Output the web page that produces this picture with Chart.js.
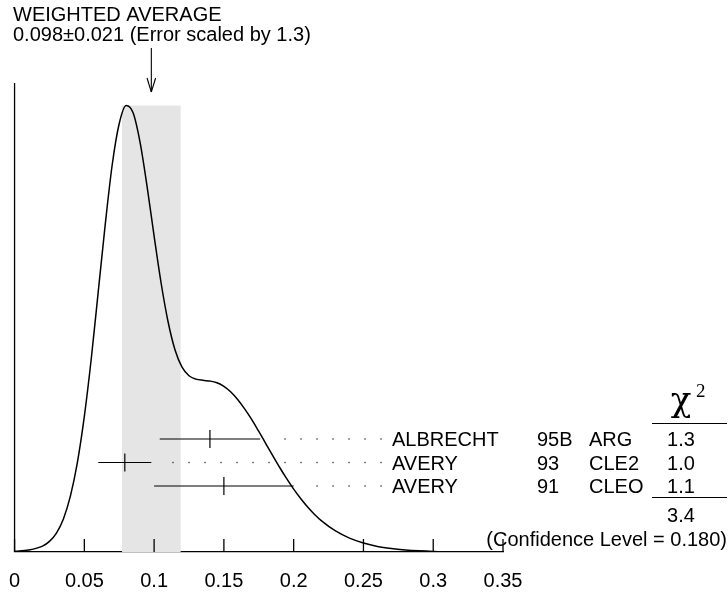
<!DOCTYPE html>
<html>
<head>
<meta charset="utf-8">
<script src="https://cdn.jsdelivr.net/npm/chart.js@4.4.1/dist/chart.umd.min.js"></script>
<style>
html, body { margin: 0; padding: 0; background: #fff; }
#c { display: block; }
</style>
</head>
<body>
<canvas id="c" width="728" height="604"></canvas>
<script>
// ideogram curve
let curveX = [0, 0.01, 0.02, 0.025, 0.03, 0.035, 0.04, 0.045, 0.05, 0.055, 0.06, 0.065,
              0.07, 0.075, 0.08, 0.085, 0.09, 0.095, 0.1, 0.105, 0.11, 0.115, 0.12, 0.125,
              0.13, 0.135, 0.14, 0.145, 0.15, 0.155, 0.16, 0.165, 0.17, 0.175, 0.18, 0.185,
              0.19, 0.195, 0.2, 0.205, 0.21, 0.215, 0.22, 0.23, 0.24, 0.25, 0.26, 0.27,
              0.28, 0.29, 0.3, 0.31, 0.32, 0.33, 0.34, 0.35];
let curveY = [5, 13, 39, 71, 127, 222, 375, 600, 910, 1300, 1750, 2200,
              2600, 2875, 2996, 2945, 2745, 2450, 2120, 1805, 1545, 1355, 1240, 1183,
              1160, 1152, 1147, 1136, 1112, 1074, 1022, 959, 888, 809, 728, 647,
              567, 492, 422, 359, 302, 252, 209, 141, 93, 60, 37, 23,
              14, 8, 4, 2, 1, 0.6, 0.3, 0.1];

// measurements
let authors = ["ALBRECHT", "AVERY", "AVERY"];
let years = ["95B", "93", "91"];
let experiments = ["ARG", "CLE2", "CLEO"];
let values = [0.140, 0.079, 0.150];
let errors = [0.036, 0.019, 0.050];
let chi2 = ["1.3", "1.0", "1.1"];
let chi2Total = "3.4";
let confidence = "0.180";

let average = 0.098;
let averageError = 0.021;
let errorScale = "1.3";

let FONT = '"Liberation Sans", Arial, Helvetica, sans-serif';

function line(c, x1, y1, x2, y2) {
    c.beginPath();
    c.moveTo(x1, y1);
    c.lineTo(x2, y2);
    c.stroke();
}

let ideogram = {
    id: "ideogram",
    beforeDatasetsDraw(chart) {
        let c = chart.ctx, x = chart.scales.x, y = chart.scales.y, a = chart.chartArea;
        let l = x.getPixelForValue(average - averageError);
        let r = x.getPixelForValue(average + averageError);
        let top = y.getPixelForValue(Math.max(...curveY));
        c.save();
        c.fillStyle = "#e5e5e5";
        c.fillRect(l, top, r - l, a.bottom - top);
        c.restore();
    },
    afterDraw(chart) {
        let c = chart.ctx, x = chart.scales.x, a = chart.chartArea;
        c.save();
        c.strokeStyle = "#000";
        c.fillStyle = "#000";
        c.lineWidth = 1.3;

        // left axis line and inward ticks
        line(c, a.left, a.top, a.left, a.bottom);
        x.ticks.forEach(t => {
            let px = x.getPixelForValue(t.value);
            line(c, px, a.bottom, px, a.bottom - 13);
        });

        // arrow at the average
        let ax = x.getPixelForValue(average);
        c.lineWidth = 1.1;
        line(c, ax, 48, ax, 92);
        line(c, ax - 4.3, 78, ax, 92);
        line(c, ax + 4.3, 78, ax, 92);

        c.font = "20px " + FONT;
        c.textAlign = "left";
        c.textBaseline = "alphabetic";
        c.fillText("WEIGHTED AVERAGE", 13, 21);
        c.fillText(average.toFixed(3) + "\u00b1" + averageError.toFixed(3) +
                   " (Error scaled by " + errorScale + ")", 13, 41);

        // measurement rows
        for (let i = 0; i < authors.length; i++) {
            let ry = 439 + i * 23.5;
            let lo = x.getPixelForValue(values[i] - errors[i]);
            let hi = x.getPixelForValue(values[i] + errors[i]);
            let cx = x.getPixelForValue(values[i]);
            c.lineWidth = 1.2;
            line(c, lo, ry, hi, ry);
            line(c, cx, ry - 9, cx, ry + 9);

            c.fillStyle = "#444";
            for (let px = 381; px > hi + 20; px -= 16) {
                c.fillRect(px - 0.7, ry - 0.7, 1.4, 1.4);
            }
            c.fillStyle = "#000";

            c.textAlign = "left";
            c.fillText(authors[i], 392, ry + 7);
            c.fillText(years[i], 537, ry + 7);
            c.fillText(experiments[i], 589, ry + 7);
            c.textAlign = "center";
            c.fillText(chi2[i], 681, ry + 7);
        }

        // chi^2 table
        c.lineWidth = 1.2;
        line(c, 652, 423.5, 727, 423.5);
        line(c, 652, 497.5, 727, 497.5);
        c.textAlign = "center";
        c.fillText(chi2Total, 681, 522);
        c.textAlign = "right";
        c.fillText("(Confidence Level = " + confidence + ")", 727, 546);

        c.textAlign = "center";
        c.font = '34px "DejaVu Serif", "Liberation Serif", serif';
        c.fillText("\u03c7", 681, 411);
        c.textAlign = "left";
        c.font = '19px "Liberation Serif", "Times New Roman", serif';
        c.fillText("2", 696, 397);
        c.restore();
    }
};

Chart.defaults.font.family = FONT;

new Chart(document.getElementById("c"), {
    type: "line",
    data: {
        datasets: [{
            data: curveX.map((v, i) => ({ x: v, y: curveY[i] })),
            borderColor: "#000",
            borderWidth: 1.5,
            pointRadius: 0,
            fill: false,
            cubicInterpolationMode: "monotone"
        }]
    },
    options: {
        responsive: false,
        animation: false,
        devicePixelRatio: 1,
        layout: { padding: { left: 13, right: 225, top: 83, bottom: 2 } },
        plugins: { legend: { display: false }, tooltip: { enabled: false } },
        scales: {
            x: {
                type: "linear",
                min: 0,
                max: 0.35,
                ticks: { stepSize: 0.05, padding: 9, color: "#000", font: { size: 20 },
                         maxRotation: 0, autoSkip: false,
                         callback: v => String(+v.toFixed(2)) },
                grid: { display: false },
                border: { display: true, color: "#000", width: 1.3 }
            },
            y: { display: false, min: 0, max: 3147 }
        }
    },
    plugins: [ideogram]
});
</script>
</body>
</html>
